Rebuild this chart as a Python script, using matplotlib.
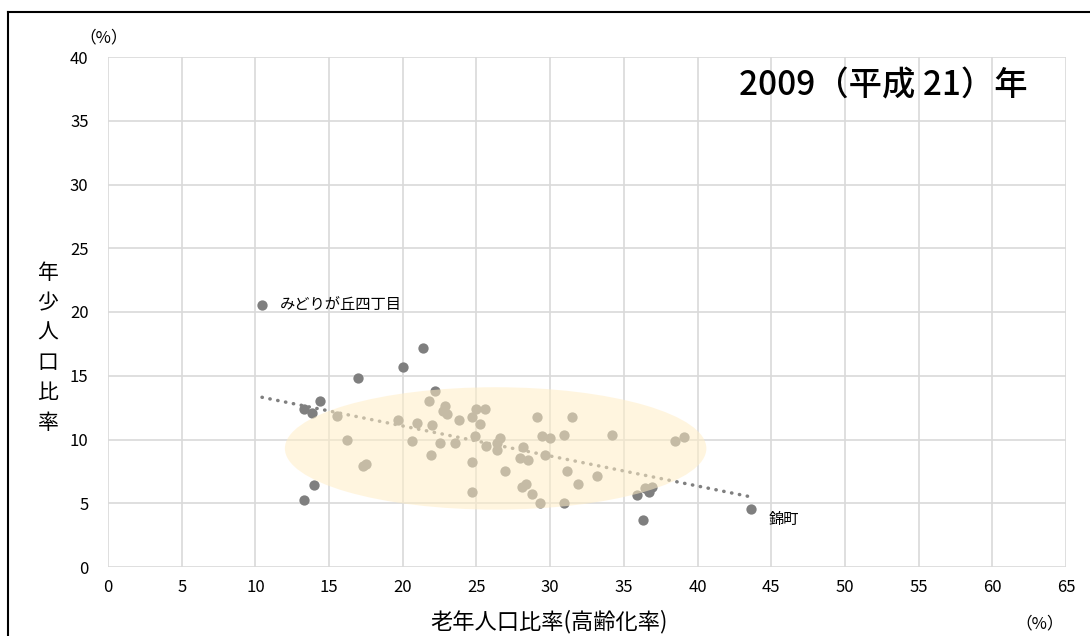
import matplotlib
matplotlib.use("Agg")
import matplotlib.pyplot as plt
from matplotlib.patches import Ellipse
from matplotlib.lines import Line2D
import numpy as np

plt.rcParams['font.family'] = ['Noto Sans CJK JP', 'DejaVu Sans']

# 老年人口比率 (%)
elderly = [10.45, 13.3, 13.84, 14.38, 13.95, 13.3, 16.94, 20.03, 21.35, 22.2,
           35.86, 36.7, 36.32, 43.62,
           15.56, 16.19, 17.32, 17.5, 19.65, 20.6, 20.94, 21.8, 21.9, 22.0,
           22.55, 22.75, 22.86, 22.98, 23.52, 23.83, 24.67, 24.7, 24.7, 24.9,
           25.0, 25.24, 25.58, 25.64, 26.4, 26.4, 26.6, 26.93, 27.95, 28.13,
           28.5, 28.07, 28.36, 28.8, 29.13, 29.3, 29.42, 29.65, 29.99, 30.94,
           30.94, 31.16, 31.46, 31.9, 33.2, 34.17, 36.43, 36.89, 38.47, 39.1]
# 年少人口比率 (%)
youth = [20.55, 12.37, 12.1, 13.02, 6.4, 5.25, 14.85, 15.71, 17.2, 13.8,
         5.65, 5.9, 3.66, 4.52,
         11.84, 10.0, 7.92, 8.05, 11.53, 9.88, 11.27, 13.0, 8.76, 11.14,
         9.75, 12.24, 12.63, 11.97, 9.75, 11.53, 11.74, 8.26, 5.88, 10.27,
         12.39, 11.22, 12.37, 9.52, 9.7, 9.18, 10.14, 7.53, 8.52, 9.4,
         8.42, 6.3, 6.51, 5.7, 11.74, 5.05, 10.27, 8.78, 10.14, 10.35,
         5.05, 7.53, 11.74, 6.51, 7.14, 10.35, 6.17, 6.3, 9.88, 10.22]

annotations = ["みどりが丘四丁目", "錦町"]
annot_points = [(10.45, 20.55), (43.62, 4.52)]

x_ticks = list(range(0, 66, 5))
y_ticks = list(range(0, 41, 5))

title_text = "2009（平成 21）年"
x_label = "老年人口比率(高齢化率)"
y_label = "年少人口比率"

fig = plt.figure(figsize=(10.9, 6.36), dpi=100)
ax = fig.add_axes([108/1090, 1-567/636, (1066-108)/1090, (567-57)/636])

ax.set_xlim(0, 65)
ax.set_ylim(0, 40)
ax.set_xticks(x_ticks)
ax.set_yticks(y_ticks)
ax.grid(True, color='#D9D9D9', linewidth=1.2, zorder=0)
for s in ax.spines.values():
    s.set_visible(False)
ax.tick_params(length=0, labelsize=12, colors='black')
ax.tick_params(axis='x', pad=9)
ax.tick_params(axis='y', pad=14)

ax.scatter(elderly, youth, s=55, color='#7F7F7F', zorder=3, linewidths=0)

# trend line
coef = np.polyfit(elderly, youth, 1)
xs = np.array([min(elderly), max(elderly)])
ax.plot(xs, np.polyval(coef, xs), color='#7F7F7F', linewidth=2.5,
        linestyle=(0, (0.1, 2.2)), dash_capstyle='round', zorder=2)

ell = Ellipse((26.3, 9.3), 28.6, 9.6, facecolor='#FFEEC6', alpha=0.55,
              edgecolor='none', zorder=4)
ax.add_patch(ell)

ax.annotate(annotations[0], annot_points[0], xytext=(13, 0), textcoords='offset points',
            va='center', ha='left', fontsize=11, zorder=5)
ax.annotate(annotations[1], annot_points[1], xytext=(13, -7), textcoords='offset points',
            va='center', ha='left', fontsize=11, zorder=5)

fig.text(1028/1090, 1-86/636, title_text, ha='right', va='center', fontsize=24,
         fontweight='medium')
fig.text(104/1090, 1-38/636, "（%）", ha='center', va='center', fontsize=12)
fig.text(549/1090, 1-622/636, x_label, ha='center', va='center', fontsize=16)
fig.text(1040/1090, 1-624/636, "（%）", ha='center', va='center', fontsize=12)
for i, ch in enumerate(y_label):
    fig.text(48/1090, 1-(273 + i*30)/636, ch, ha='center', va='center', fontsize=15)

# outer frame
fig.add_artist(Line2D([8/1090, 1], [1-12/636, 1-12/636], color='black', linewidth=1.5,
                      transform=fig.transFigure))
fig.add_artist(Line2D([8/1090, 8/1090], [1-12/636, 0], color='black', linewidth=1.5,
                      transform=fig.transFigure))

fig.savefig("out.png", dpi=100)
